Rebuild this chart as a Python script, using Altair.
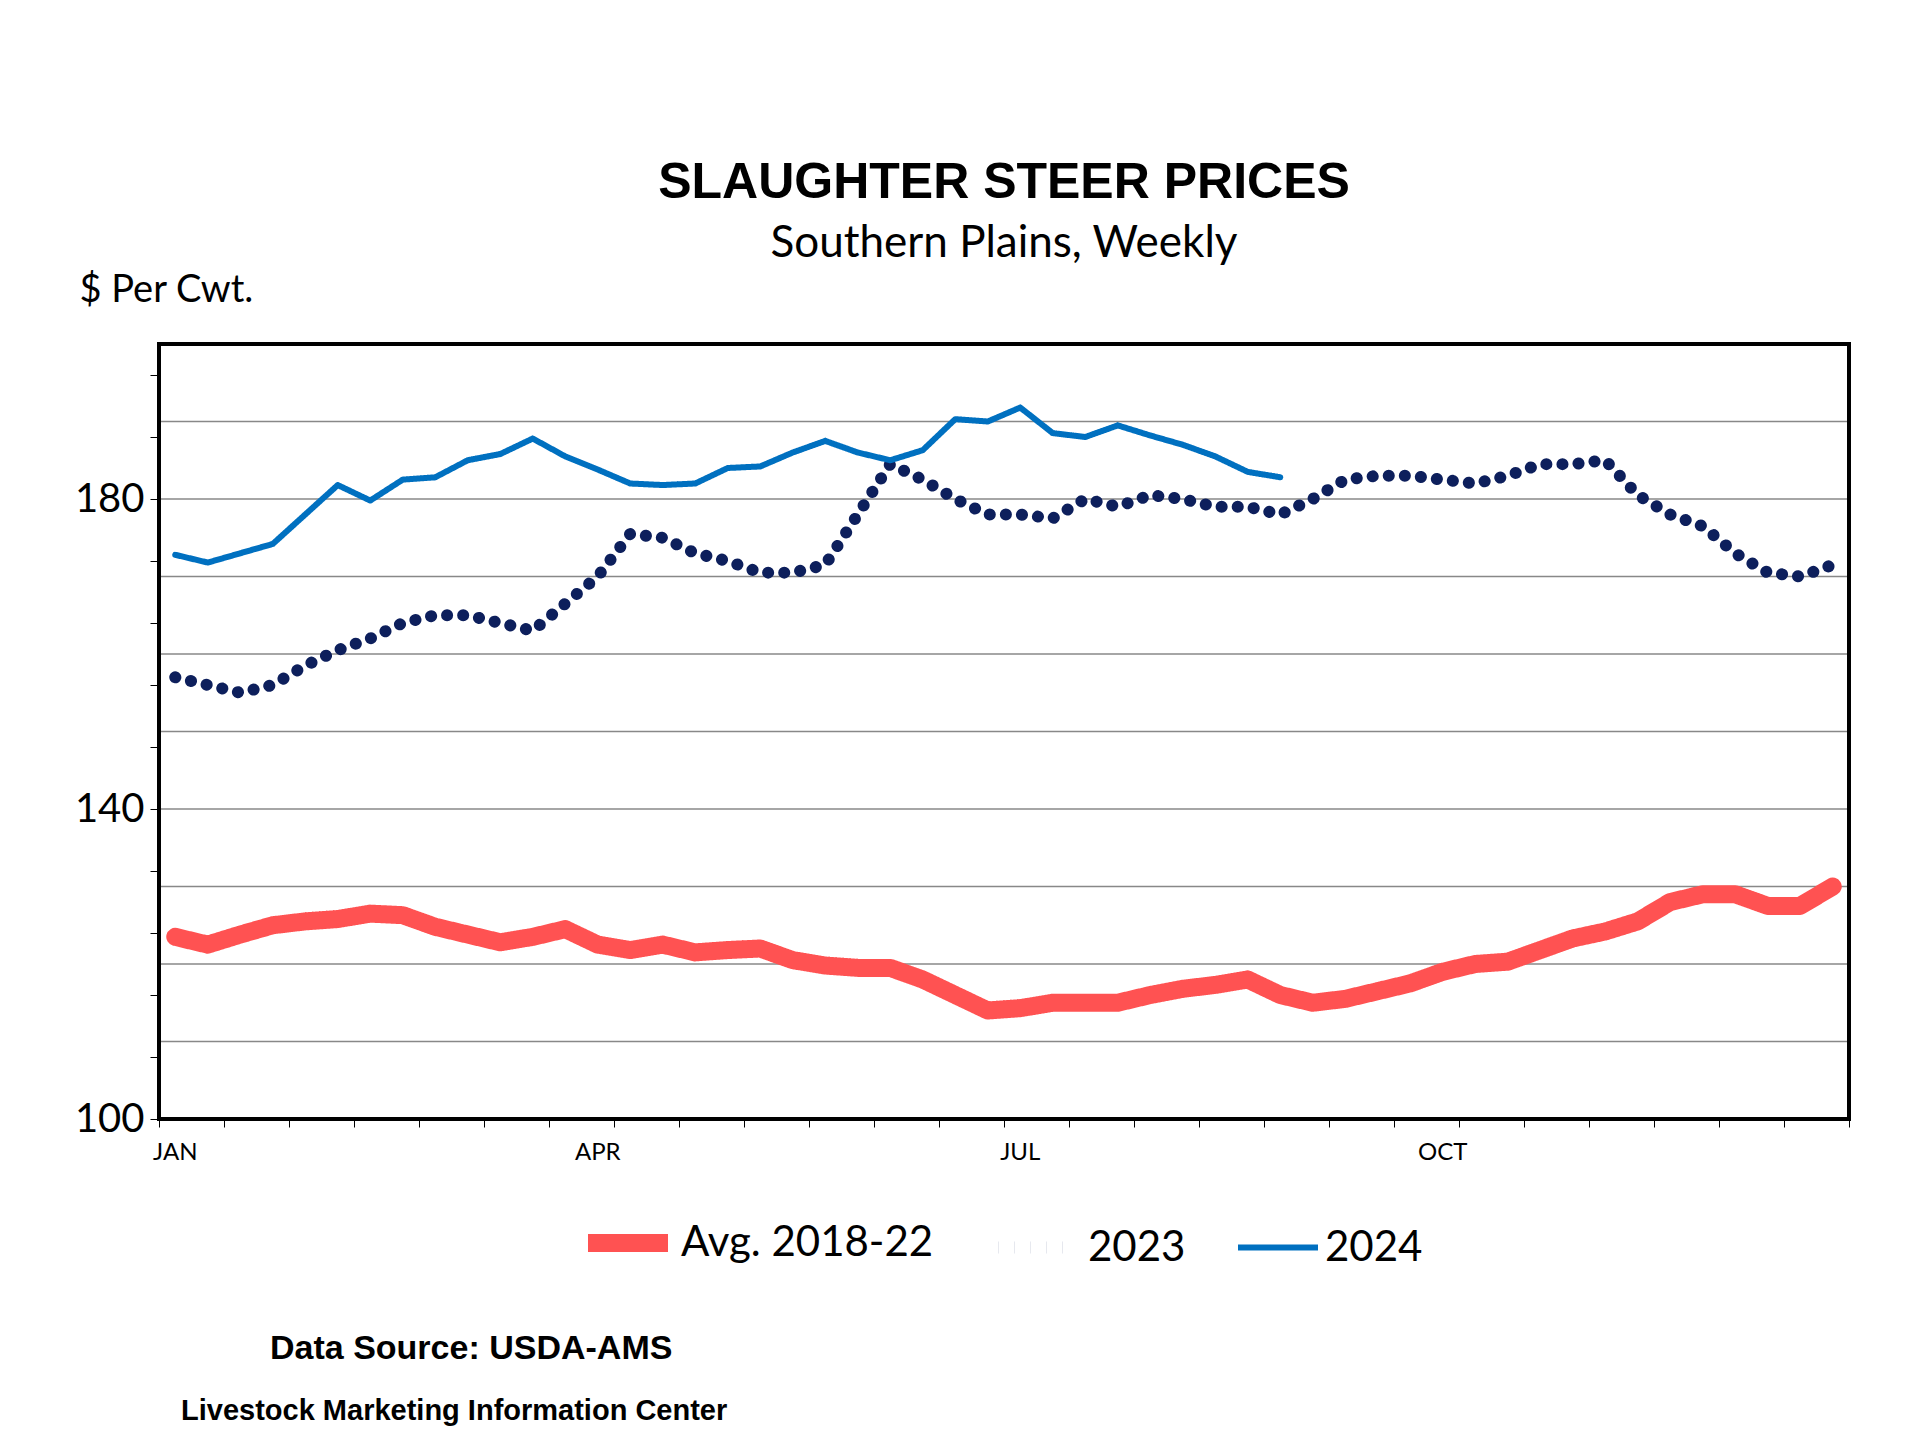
import altair as alt
import pandas as pd

avg = [123.5,122.5,123.8,125,125.5,125.8,126.5,126.3,124.8,123.8,122.8,123.5,124.5,122.5,121.8,122.5,121.5,121.8,122,120.5,119.8,119.5,119.5,118,116,114,114.3,115,115,115,116,116.8,117.3,118,116,115,115.5,116.5,117.5,119,120,120.3,121.8,123.3,124.2,125.5,128,129,129,127.5,127.5,130]
y2023 = [157,156,155,156,158.5,160.5,162,164,165,165,164,163,166.5,170,175.5,175,173,172,170.5,170.5,171.5,178,184.5,182.5,180,178,178,177.5,180,179,180.5,180,179,179,178,180,182.5,183,183,182.5,182,183,184.5,184.5,185,180.5,178,176.5,173,170.5,170,171.5]
y2024 = [172.8,171.8,173,174.2,178,181.8,179.8,182.5,182.8,185,185.8,187.8,185.5,183.8,182,181.8,182,184,184.2,186,187.5,186,185,186.3,190.3,190,191.8,188.5,188,189.5,188.2,187,185.5,183.5,182.8]
months = ["JAN", "APR", "JUL", "OCT"]
month_weeks = [1, 14, 27, 40]
series_names = ["Avg. 2018-22", "2023", "2024"]

rows = []
for name, vals in zip(series_names, [avg, y2023, y2024]):
    for i, v in enumerate(vals):
        rows.append({"week": i + 1, "price": v, "series": name})
df = pd.DataFrame(rows)

W, H = 1690, 775
xs = alt.Scale(domain=[0.5, 52.5], nice=False, zero=False)
ys = alt.Scale(domain=[100, 200], nice=False, zero=False)
FONT = "Lato"

lines = alt.Chart(df).mark_line(strokeCap="round", strokeJoin="round").encode(
    x=alt.X("week:Q", scale=xs, axis=alt.Axis(values=[i + 0.5 for i in range(53)], labels=False, title=None,
                                              tickColor="black", tickSize=8, domainColor="black", domainWidth=3, grid=False)),
    y=alt.Y("price:Q", scale=ys, axis=alt.Axis(values=list(range(100, 201, 2)),
                                               labelExpr="datum.value % 10 == 0 ? datum.value : ''",
                                               labelOverlap=False,
                                               labelFontSize=40, labelFont=FONT, labelColor="black",
                                               tickColor="black", tickSize=9, domainColor="black", domainWidth=3,
                                               grid=False, title="$ Per Cwt.", titleAngle=0, titleAlign="left",
                                               titleX=-80, titleY=-35, titleFontSize=38, titleFont=FONT,
                                               titleFontWeight="normal", labelPadding=6)),
    color=alt.Color("series:N", scale=alt.Scale(domain=series_names, range=["#FF5252", "#0D1F5C", "#0070C0"]),
                    legend=alt.Legend(orient="none", legendX=420, legendY=850, direction="horizontal", title=None,
                                      symbolType="stroke", symbolSize=6400, labelFontSize=42, labelFont=FONT,
                                      labelColor="black", labelLimit=0, columnPadding=40)),
    strokeDash=alt.StrokeDash("series:N", scale=alt.Scale(domain=series_names, range=[[1, 0], [0.1, 16], [1, 0]])),
    strokeWidth=alt.StrokeWidth("series:N", scale=alt.Scale(domain=series_names, range=[18, 6, 7])),
    order="week:Q",
)

grid = alt.Chart(pd.DataFrame({"g": list(range(110, 200, 10))})).mark_rule(color="#888888", strokeWidth=1.5).encode(
    y=alt.Y("g:Q", scale=ys))

border = alt.Chart(pd.DataFrame({"b": [0]})).mark_rect(fill=None, fillOpacity=0, stroke="black", strokeWidth=4).encode(
    x=alt.value(0), x2=alt.value(W), y=alt.value(0), y2=alt.value(H))

mdf = pd.DataFrame({"week": month_weeks, "label": months})
mlabels = alt.Chart(mdf).mark_text(fontSize=24, font=FONT, baseline="top", color="black").encode(
    x=alt.X("week:Q", scale=xs), y=alt.value(H + 22), text="label:N")

foot = pd.DataFrame({"t": ["Data Source:  USDA-AMS", "Livestock Marketing Information Center"]})
f1 = alt.Chart(foot.iloc[[0]]).mark_text(align="left", fontWeight="bold", fontSize=34, font="Liberation Sans", color="black").encode(
    x=alt.value(111), y=alt.value(H + 230), text="t:N")
f2 = alt.Chart(foot.iloc[[1]]).mark_text(align="left", fontWeight="bold", fontSize=29, font="Liberation Sans", color="black").encode(
    x=alt.value(22), y=alt.value(H + 292), text="t:N")

chart = alt.layer(grid, lines, border, mlabels, f1, f2).properties(
    width=W, height=H,
    title=alt.TitleParams("SLAUGHTER STEER PRICES", subtitle="Southern Plains, Weekly", anchor="middle",
                          fontSize=50, font="Liberation Sans", fontWeight="bold", color="black",
                          subtitleFontSize=44, subtitleFont=FONT, subtitleColor="black", offset=5, subtitlePadding=14),
    padding={"left": 66, "top": 150, "right": 40, "bottom": 10},
).configure_view(stroke=None).configure(background="white")

chart.save("out.html", embed_options={"renderer": "svg", "actions": False})
